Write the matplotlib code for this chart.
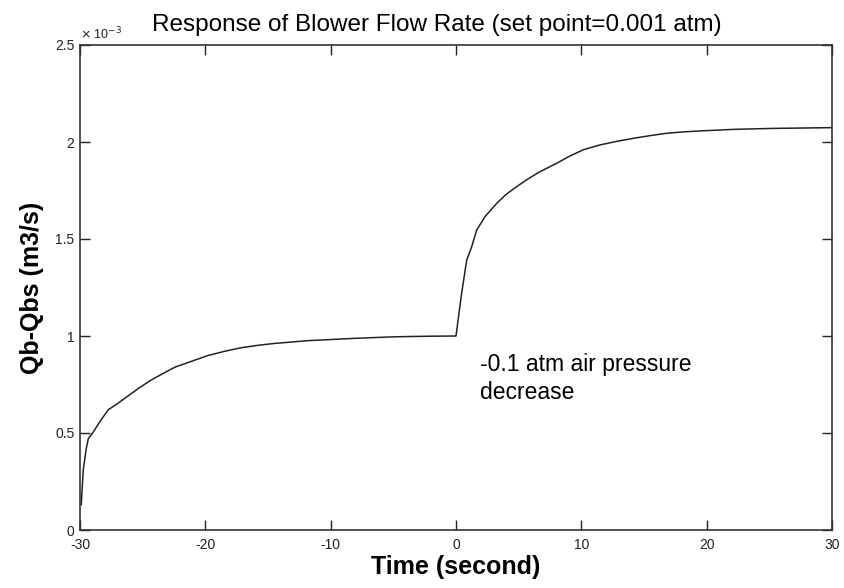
import numpy as np
import matplotlib
matplotlib.use("Agg")
import matplotlib.pyplot as plt
from matplotlib.ticker import FuncFormatter

plt.rcParams['font.family'] = ['Liberation Sans', 'DejaVu Sans']
plt.rcParams['axes.unicode_minus'] = False

# time (s) and Qb-Qbs (m3/s, in units of 1e-3)
time_s = [-29.9, -29.84, -29.74, -29.5, -29.34, -28.94, -28.4, -27.74, -27.0, -26.4,
          -25.4, -24.4, -23.4, -22.4, -21.0, -19.76, -18.4, -17.1, -15.8, -14.44,
          -11.8, -8.06, -4.87, -2.0, 0.0,
          0.45, 0.85, 1.25, 1.65, 2.31, 3.25, 4.0, 4.84, 5.8, 6.7, 8.03, 9.0, 10.16,
          11.49, 12.8, 14.15, 15.5, 16.8, 18.1, 19.47, 22.1, 25.2, 30.0]
flow_e3 = [0.13, 0.2, 0.31, 0.42, 0.47, 0.505, 0.56, 0.62, 0.652, 0.68,
           0.727, 0.77, 0.806, 0.84, 0.872, 0.90, 0.922, 0.94, 0.952, 0.962,
           0.976, 0.988, 0.996, 0.999, 1.0,
           1.22, 1.39, 1.46, 1.546, 1.615, 1.684, 1.73, 1.77, 1.812, 1.847, 1.89, 1.925, 1.96,
           1.985, 2.003, 2.019, 2.033, 2.045, 2.052, 2.057, 2.065, 2.07, 2.074]

xticks = [-30, -20, -10, 0, 10, 20, 30]
yticks = [0, 0.5e-3, 1e-3, 1.5e-3, 2e-3, 2.5e-3]

fig = plt.figure(figsize=(8.45, 5.88), dpi=100)
ax = fig.add_axes([80/845, 1 - 530/588, 752/845, 485/588])

ax.plot(time_s, np.array(flow_e3) * 1e-3, color='#222222', lw=1.1)

ax.set_xlim(-30, 30)
ax.set_ylim(0, 2.5e-3)
ax.set_xticks(xticks)
ax.set_yticks(yticks)
ax.yaxis.set_major_formatter(FuncFormatter(lambda v, p: f"{v*1e3:g}"))
ax.tick_params(direction='in', length=7, width=1, top=True, right=True,
               labelsize=10, colors='#222222')
ax.tick_params(axis='x', pad=6)
ax.tick_params(axis='y', pad=4)
for s in ax.spines.values():
    s.set_linewidth(1.2)
    s.set_color('#333333')

ax.text(0.0, 1.005, r"$\times$ 10$^{-3}$", transform=ax.transAxes, fontsize=9,
        ha='left', va='bottom', color='#222222')

fig.text(437/845, 1 - 25/588, "Response of Blower Flow Rate (set point=0.001 atm)",
         ha='center', va='center', fontsize=17.5)
ax.text(1.9, 0.78e-3, "-0.1 atm air pressure\ndecrease", fontsize=16.5,
        ha='left', va='center', linespacing=1.25)

ax.set_xlabel("Time (second)", fontsize=18, fontweight='bold', labelpad=2)
ax.set_ylabel("Qb-Qbs (m3/s)", fontsize=18, fontweight='bold', labelpad=8)

fig.savefig("out.png", dpi=100, facecolor='white')
